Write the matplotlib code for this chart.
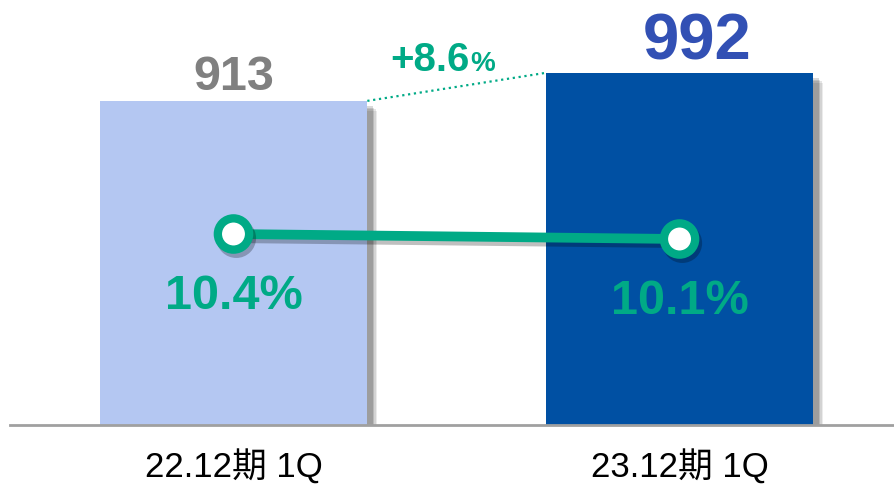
import matplotlib as mpl
mpl.use('Agg')
import matplotlib.pyplot as plt
import matplotlib.patheffects as pe

plt.rcParams['font.family'] = ['Liberation Sans', 'Noto Sans CJK JP', 'DejaVu Sans']

# data
categories = ['22.12期 1Q', '23.12期 1Q']
values = [913, 992]
ratios = [10.4, 10.1]
growth_label = '+8.6'

BAR_COLORS = ['#B4C7F2', '#0050A3']
VALUE_COLORS = ['#808080', '#3250B4']
GREEN = '#00AA86'


def soft_shadow(dx=3, dy=-3):
    effects = []
    for i, a in enumerate([0.08, 0.10, 0.12, 0.15]):
        effects.append(pe.SimplePatchShadow(offset=(dx + 4 - i, dy - 4 + i),
                                            shadow_rgbFace='black', alpha=a))
    effects.append(pe.Normal())
    return effects


fig = plt.figure(figsize=(8.95, 4.89), dpi=100)
ax = fig.add_axes([10 / 895, 63 / 489, 885 / 895, 426 / 489])
x = [0, 1]
bars = ax.bar(x, values, width=0.6, color=BAR_COLORS, zorder=2)
for b in bars:
    b.set_path_effects(soft_shadow())
ax.set_xlim(-0.501, 1.483)
ax.set_ylim(0, 1200)
for s in ['top', 'right', 'left']:
    ax.spines[s].set_visible(False)
ax.spines['bottom'].set_color('#A0A0A0')
ax.spines['bottom'].set_linewidth(2)
ax.set_xticks([])
ax.set_yticks([])

# value labels
ax.text(x[0], values[0] + 34, str(values[0]), ha='center', va='baseline',
        fontsize=35, fontweight='bold', color=VALUE_COLORS[0])
ax.text(x[1] + 0.04, values[1] + 39, str(values[1]), ha='center', va='baseline',
        fontsize=47, fontweight='bold', color=VALUE_COLORS[1])

# growth connector
ax.plot([x[0] + 0.3, x[1] - 0.3], values, linestyle=':', color=GREEN,
        lw=1.6, zorder=3)
ax.text(0.53, 1000, growth_label, ha='right', va='baseline', fontsize=29,
        fontweight='bold', color=GREEN)
ax.text(0.53, 1000, '%', ha='left', va='baseline', fontsize=20,
        fontweight='bold', color=GREEN)

# ratio line
ax2 = ax.twinx()
ax2.set_ylim(-1.06, 24.5)
ax2.axis('off')
ax2.plot(x, ratios, color=GREEN, lw=7, marker='o', markersize=22.5,
         markerfacecolor='white', markeredgecolor=GREEN, markeredgewidth=6,
         solid_capstyle='butt', zorder=4,
         path_effects=[pe.SimpleLineShadow(offset=(2, -3), alpha=0.25),
                       pe.Normal()])
for xi, r in zip(x, ratios):
    ax2.annotate('%.1f%%' % r, (xi, r), xytext=(0, -53), textcoords='offset points',
                 ha='center', va='baseline', fontsize=35, fontweight='bold',
                 color=GREEN)

# category labels
for xi, c in zip(x, categories):
    ax.annotate(c, (xi, 0), xytext=(0, -37), textcoords='offset points',
                ha='center', va='baseline', fontsize=25, color='black',
                annotation_clip=False)

fig.savefig('out.png', dpi=100)
